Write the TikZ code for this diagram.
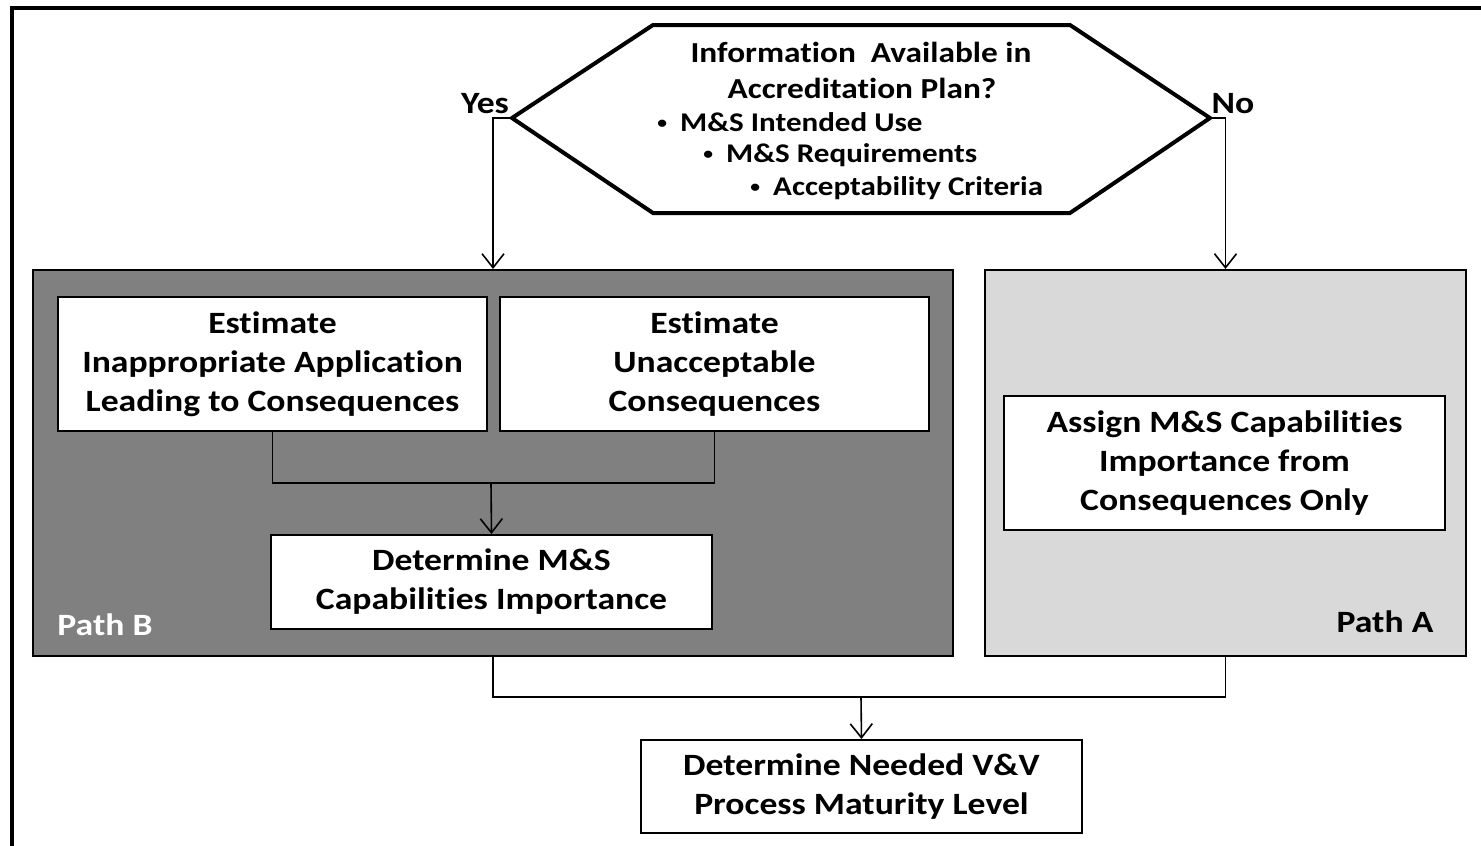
\documentclass[tikz,border=0pt]{standalone}
\usepackage{fontspec}
\setmainfont{Carlito}[FakeStretch=1.15,Ligatures=NoCommon]
\usetikzlibrary{arrows.meta}

\tikzstyle{box}=[draw=black,fill=white,line width=2pt,align=center,inner sep=0pt,font=\fontsize{31}{39}\selectfont\bfseries]
\tikzstyle{pathregion}=[draw=black,line width=2pt,inner sep=0pt]
\tikzstyle{conn}=[line width=1.6pt]
\tikzstyle{arr}=[conn,-{Straight Barb[length=14pt,width=22pt,line width=1.6pt]}]
\tikzstyle{plain}=[inner sep=0pt,font=\fontsize{29}{34}\selectfont\bfseries]
\tikzstyle{item}=[plain,anchor=west,font=\fontsize{27}{32}\selectfont\bfseries]
\tikzstyle{tag}=[plain,font=\fontsize{31}{34}\selectfont\bfseries]
\newcommand{\smallbullet}{\llap{\raisebox{3pt}{\fontsize{17}{17}\selectfont\textbullet}\hspace{13pt}}}

\begin{document}
\begin{tikzpicture}[x=1pt,y=-1pt]
\useasboundingbox (0,0) rectangle (1481,846);
% outer frame
\draw[line width=4pt] (12,860) -- (12,8) -- (1495,8);
% decision
\coordinate (yesP) at (512,118);
\coordinate (noP) at (1210,118);
\draw[line width=4pt,line join=miter] (yesP) -- (653,25) -- (1070,25) -- (noP) -- (1070,213) -- (653,213) -- cycle;
\node[plain] (q1) at (861,52) {Information\ \ Available in};
\node[plain] (q2) at (862,88) {Accreditation Plan?};
\node[item] (b1) at (680,122) {\smallbullet M\&S Intended Use};
\node[item] (b2) at (726,155) {\smallbullet M\&S Requirements};
\node[item] (b3) at (773,188) {\smallbullet Acceptability Criteria};
\node[tag] (yes) at (485,104) {Yes};
\node[tag] (no) at (1233,104) {No};
% path regions
\node[pathregion,fill=black!50,minimum width=920,minimum height=386] (pathB) at (493,463) {};
\node[pathregion,fill=black!15,minimum width=481,minimum height=386] (pathA) at (1225.5,463) {};
\node[tag,text=white] (labB) at (105,625) {Path B};
\node[tag] (labA) at (1385,622) {Path A};
% path B boxes
\node[box,minimum width=429,minimum height=134] (inapp) at (272.5,364) {Estimate\\Inappropriate Application\\Leading to Consequences};
\node[box,minimum width=429,minimum height=134] (unacc) at (714.5,364) {Estimate\\Unacceptable\\Consequences};
\node[box,minimum width=441,minimum height=94] (detB) at (491.5,582) {Determine M\&S\\Capabilities Importance};
% path A box
\node[box,minimum width=441,minimum height=134] (assign) at (1224.5,463) {Assign M\&S Capabilities\\Importance from\\Consequences Only};
% final box
\node[box,minimum width=441,minimum height=93] (final) at (861.5,786.5) {Determine Needed V\&V\\Process Maturity Level};
% connectors
\coordinate (mergeB) at (491,483);
\coordinate (mergeF) at (861,697);
\draw[arr] (yesP) -| (pathB.north);
\draw[arr] (noP) -| (pathA.north);
\draw[conn] (inapp.south) |- (mergeB) -| (unacc.south);
\draw[arr] (mergeB) -- (detB.north);
\draw[conn] (pathB.south) |- (mergeF) -| (pathA.south);
\draw[arr] (mergeF) -- (final.north);
\end{tikzpicture}
\end{document}
